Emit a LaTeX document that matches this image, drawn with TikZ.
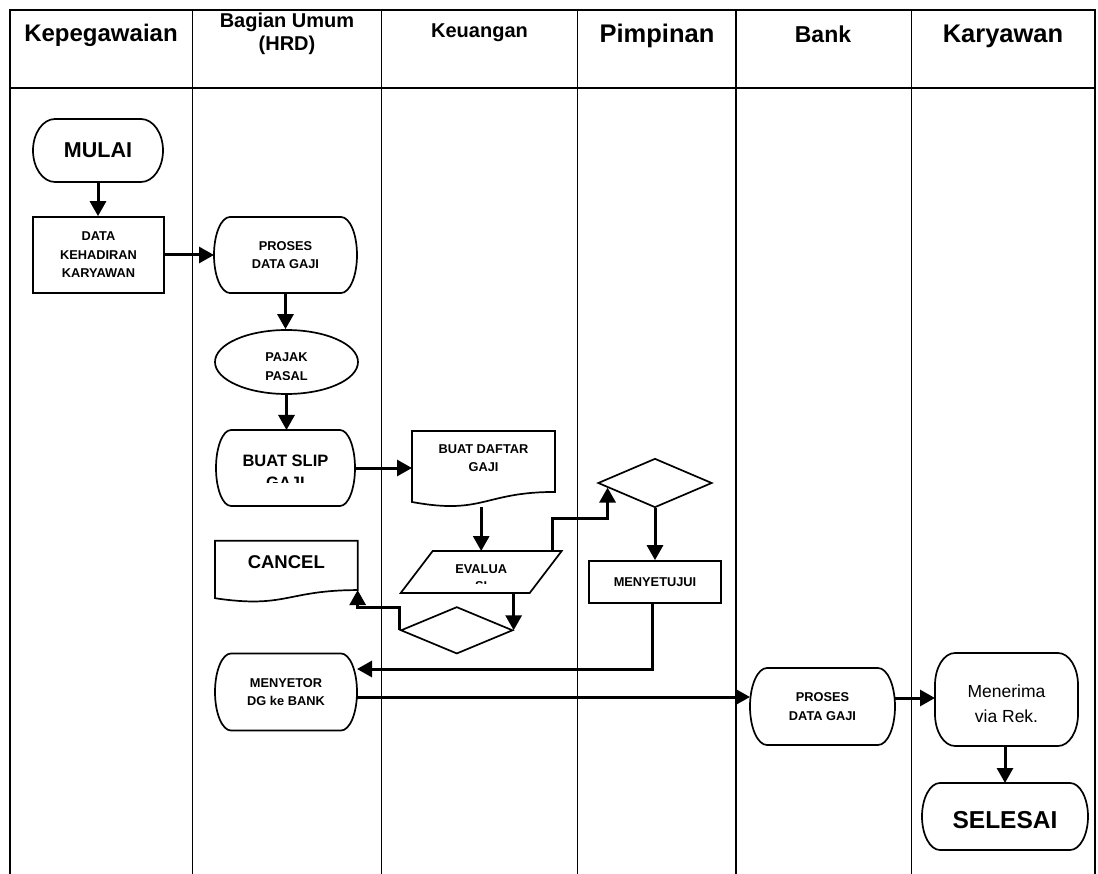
\documentclass[tikz,border=0pt]{standalone}
\usepackage{fontspec}
\setmainfont{Liberation Sans}
\usetikzlibrary{arrows.meta,shapes.geometric,calc}
% terminal outline with elliptical ends around a named node: #1 name, #2 x radius, #3 y radius
\newcommand\termshape[3]{\draw[shp] ([xshift=#2]#1.north west) -- ([xshift=-#2]#1.north east)
  arc[start angle=90,end angle=0,x radius=#2,y radius=#3] -- ([yshift=#3]#1.south east)
  arc[start angle=0,end angle=-90,x radius=#2,y radius=#3] -- ([xshift=#2]#1.south west)
  arc[start angle=270,end angle=180,x radius=#2,y radius=#3] -- ([yshift=-#3]#1.north west)
  arc[start angle=180,end angle=90,x radius=#2,y radius=#3] -- cycle;}
% document outline (wavy bottom) around a named node
\newcommand\docshape[1]{\draw[shp] (#1.north west) -- (#1.north east) -- ($(#1.north east)!0.802!(#1.south east)$)
  .. controls ($(#1.north)!0.802!(#1.south)$) and ($(#1.north)!1.1075!(#1.south)$) .. ($(#1.north west)!0.934!(#1.south west)$) -- cycle;}
\tikzset{
  lane/.style={line width=1.1pt},
  shp/.style={draw=black, line width=1.7pt},
  box/.style={shp, rectangle, inner sep=0pt, align=center},
  blank/.style={rectangle, draw=none, inner sep=0pt, outer sep=0pt, align=center},
  arr/.style={line width=3pt, -{Triangle[length=15pt,width=16pt]}},
  hA/.style={font=\fontsize{24}{28}\selectfont\bfseries, inner sep=0pt, anchor=base},
  hD/.style={font=\fontsize{25.5}{30}\selectfont\bfseries, inner sep=0pt, anchor=base},
  hB/.style={font=\fontsize{20}{24}\selectfont\bfseries, inner sep=0pt, anchor=base},
  hC/.style={font=\fontsize{23}{27}\selectfont\bfseries, inner sep=0pt, anchor=base},
  tsm/.style={font=\fontsize{12.8}{18.5}\selectfont\bfseries, align=center, inner sep=0pt},
}
\begin{document}
\begin{tikzpicture}[x=1pt,y=-1pt]
\useasboundingbox (0,0) rectangle (1098,874);
% swimlane grid
\draw[lane] (10,874) -- (10,10) -- (1095,10) -- (1095,874);
\draw[lane] (10,88) -- (1095,88);
\foreach \x in {192.5,381.5,577.5,736,911.5} \draw[lane] (\x,10) -- (\x,874);
% headers
\node[hA] (hKep) at (101,42) {Kepegawaian};
\node[hB] (hBag1) at (287,28) {Bagian Umum};
\node[hB] (hBag2) at (287,51) {(HRD)};
\node[hB] (hKeu) at (479.5,38) {Keuangan};
\node[hD] (hPim) at (657,43) {Pimpinan};
\node[hC] (hBank) at (823,43) {Bank};
\node[hD] (hKar) at (1003,43) {Karyawan};

% Kepegawaian
\node[blank, minimum width=130pt, minimum height=63pt, font=\fontsize{21.5}{25}\selectfont\bfseries] (mulai) at (98,150.5) {MULAI};
\termshape{mulai}{22pt}{31.5pt}
\node[box, tsm, minimum width=131pt, minimum height=76pt] (data) at (98.5,255) {DATA\\KEHADIRAN\\KARYAWAN};

% Bagian Umum
\node[blank, tsm, minimum width=143pt, minimum height=76pt] (proses) at (285.5,255) {PROSES\\DATA GAJI};
\termshape{proses}{16pt}{38pt}
\node[shp, ellipse, minimum width=143pt, minimum height=64pt, inner sep=0pt] (pajak) at (286.5,362) {};
\begin{scope}
\clip (200,335) rectangle (370,379.3);
\node[tsm, font=\fontsize{12.8}{19}\selectfont\bfseries] (pajakT) at (286.5,367) {PAJAK\\PASAL};
\end{scope}
\node[blank, minimum width=139pt, minimum height=76pt] (slip) at (285.5,468) {};
\termshape{slip}{15pt}{38pt}
\begin{scope}
\clip (220,440) rectangle (350,482);
\node[tsm, font=\fontsize{16.5}{22}\selectfont\bfseries] (slipT) at (285.5,472) {BUAT SLIP\\GAJI};
\end{scope}
\node[blank, minimum width=142.7pt, minimum height=61.5pt] (cancel) at (286.3,571.5) {};
\docshape{cancel}
\node[font=\fontsize{18.5}{22}\selectfont\bfseries, inner sep=0pt] (cancelT) at (286.3,562.5) {CANCEL};
\node[blank, tsm, minimum width=142pt, minimum height=77pt] (mset) at (286,692) {MENYETOR\\DG ke BANK};
\termshape{mset}{16pt}{38.5pt}

% Keuangan
\node[blank, minimum width=143pt, minimum height=76pt] (daftar) at (483.5,469) {};
\docshape{daftar}
\node[tsm, font=\fontsize{12.8}{18}\selectfont\bfseries] (daftarT) at (483.5,458) {BUAT DAFTAR\\GAJI};
\node[blank, minimum width=161pt, minimum height=42pt] (ev) at (481.2,572) {};
\draw[shp] ([xshift=32pt]ev.north west) -- (ev.north east) -- ([xshift=-32pt]ev.south east) -- (ev.south west) -- cycle;
\begin{scope}
\clip (420,555) rectangle (545,583.5);
\node[tsm, font=\fontsize{12.8}{17}\selectfont\bfseries] (evT) at (481.2,578) {EVALUA\\SI};
\end{scope}
\node[shp, diamond, minimum width=112pt, minimum height=47pt, inner sep=0pt] (dia2) at (456.8,630.3) {};

% Pimpinan
\node[shp, diamond, minimum width=114pt, minimum height=49pt, inner sep=0pt] (dia1) at (655,483) {};
\node[box, tsm, minimum width=132pt, minimum height=42pt] (mny) at (655,582) {MENYETUJUI};

% Bank
\node[blank, tsm, minimum width=145pt, minimum height=77pt] (bp) at (822.5,706.5) {PROSES\\DATA GAJI};
\termshape{bp}{17pt}{38.5pt}

% Karyawan
\node[blank, minimum width=143pt, minimum height=93pt] (men) at (1006.5,699.5) {};
\termshape{men}{20pt}{32pt}
\node[font=\fontsize{17.5}{24.5}\selectfont, align=center, inner sep=0pt] (menT) at (1006.5,703.5) {Menerima\\via Rek.};
\node[blank, minimum width=166pt, minimum height=67pt] (sel) at (1005,816.5) {};
\termshape{sel}{18pt}{33.5pt}
\node[font=\fontsize{24.5}{29}\selectfont\bfseries, inner sep=0pt] (selT) at (1005,820.5) {SELESAI};

% connectors
\draw[arr] (mulai.south) -- (mulai.south |- data.north);
\draw[arr] (data.east) -- (data.east -| proses.west);
\draw[arr] (proses.south) -- (proses.south |- pajak.north);
\draw[arr] (pajak.south) -- (pajak.south |- slip.north);
\draw[arr] (slip.east) -- (slip.east -| daftar.west);
\draw[arr] (ev.north |- daftar.south) -- (ev.north);
\draw[arr] (dia2.east |- ev.south) -- (dia2.east);
\draw[arr] (dia2.west) -- ++(0,-23) -| ($(cancel.north east)!0.802!(cancel.south east)$);
\draw[arr] ([xshift=71pt]ev.north) -- ++(0,-33) -| ($(dia1.west)!0.18!(dia1.south)$);
\draw[arr] (dia1.south) -- (mny.north);
\draw[arr] ([xshift=-3pt]mny.south) |- ($(mset.east)+(0,-23)$);
\path ($(mset.east)+(0,5)$) coordinate (m1);
\draw[arr] (m1) -- (m1 -| bp.west);
\path ($(bp.east)+(0,-8.5)$) coordinate (b1);
\draw[arr] (b1) -- (b1 -| men.west);
\draw[arr] (sel.north |- men.south) -- (sel.north);
\end{tikzpicture}
\end{document}
